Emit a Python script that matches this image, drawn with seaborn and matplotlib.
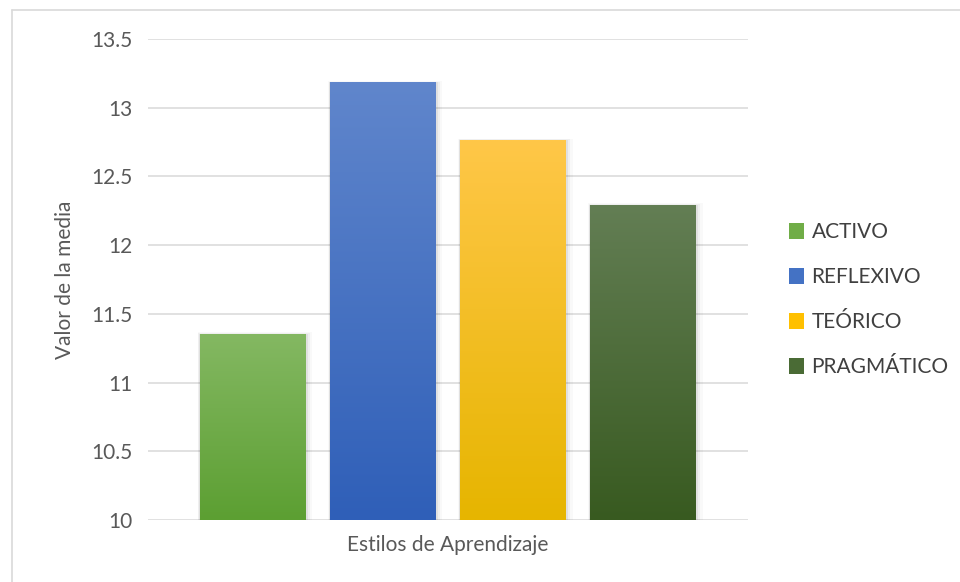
import numpy as np
import pandas as pd
import matplotlib
matplotlib.use("Agg")
import matplotlib.pyplot as plt
from matplotlib.colors import LinearSegmentedColormap
from matplotlib.lines import Line2D
import seaborn as sns

# ---- data ----
category = ["Estilos de Aprendizaje"]
series = ["ACTIVO", "REFLEXIVO", "TEÓRICO", "PRAGMÁTICO"]
values = [11.35, 13.18, 12.76, 12.29]
yticks = [10, 10.5, 11, 11.5, 12, 12.5, 13, 13.5]
ytick_labels = ["10", "10.5", "11", "11.5", "12", "12.5", "13", "13.5"]

# gradient colours (top, bottom)
top_colors = ["#84b862", "#6086cc", "#ffc748", "#637e54"]
bot_colors = ["#5c9f32", "#2f5fb8", "#e6b500", "#385a20"]
mid_colors = ["#70ad47", "#4472c4", "#ffc000", "#4a6b35"]

df = pd.DataFrame({"cat": category * len(series), "serie": series, "valor": values})

sns.set_theme(style="white")
plt.rcParams["font.family"] = ["Lato", "DejaVu Sans"]

fig = plt.figure(figsize=(9.6, 5.82), dpi=100)
ax = fig.add_axes([148 / 960, 1 - 520 / 582, 600 / 960, (520 - 39) / 582])

sns.barplot(data=df, x="cat", y="valor", hue="serie", hue_order=series,
            palette=mid_colors, width=0.867, gap=0.185, ax=ax,
            legend=False, saturation=1, zorder=3)

ax.set_ylim(10, 13.5)
ax.set_xlim(-0.5, 0.5)
ax.set_yticks(yticks)
ax.set_yticklabels(ytick_labels)
ax.yaxis.grid(True, color="#d9d9d9", lw=1.1, zorder=0)
ax.xaxis.grid(False)
for s in ax.spines.values():
    s.set_visible(False)
ax.tick_params(axis="y", length=0, pad=11, labelsize=15, labelcolor="#595959")
ax.tick_params(axis="x", length=0, pad=11, labelsize=15, labelcolor="#595959")
ax.set_xlabel("")
ax.set_ylabel("Valor de la media", fontsize=15, color="#595959", labelpad=12)

# gradient fill + soft shadow on each bar
bars = [p for p in ax.patches]
ybase = 10
for p, ct, cb in zip(bars, top_colors, bot_colors):
    x0 = p.get_x()
    w = p.get_width()
    top = p.get_y() + p.get_height()
    # soft shadow
    for i, a in enumerate([0.06, 0.04, 0.025]):
        dx = 0.003 * (i + 1)
        sh = plt.Rectangle((x0 - dx * 0.4, ybase), w + dx * 1.6, top - ybase + 0.005 * (i + 1),
                           facecolor="black", alpha=a, edgecolor="none", zorder=2)
        ax.add_patch(sh)
    p.set_visible(False)
    cmap = LinearSegmentedColormap.from_list("g", [cb, ct])
    grad = np.linspace(0, 1, 256).reshape(-1, 1)
    ax.imshow(grad, cmap=cmap, origin="lower", aspect="auto",
              extent=[x0, x0 + w, ybase, top], zorder=4,
              interpolation="bilinear")
ax.set_xlim(-0.5, 0.5)
ax.set_ylim(10, 13.5)

# legend
handles = [plt.Rectangle((0, 0), 1, 1, facecolor=c, edgecolor="none") for c in mid_colors]
leg = fig.legend(handles, series, loc="center left", bbox_to_anchor=(0.802, 0.485),
                 frameon=False, fontsize=15, labelspacing=1.2, handlelength=0.75,
                 handleheight=0.75, handletextpad=0.35)
for t in leg.get_texts():
    t.set_color("#404040")

# chart border (top and left visible)
fig.add_artist(Line2D([12 / 960, 1], [1 - 10 / 582, 1 - 10 / 582],
                      transform=fig.transFigure, color="#d9d9d9", lw=1.2))
fig.add_artist(Line2D([12 / 960, 12 / 960], [0, 1 - 10 / 582],
                      transform=fig.transFigure, color="#d9d9d9", lw=1.2))

fig.savefig("out.png", dpi=100, facecolor="white")
